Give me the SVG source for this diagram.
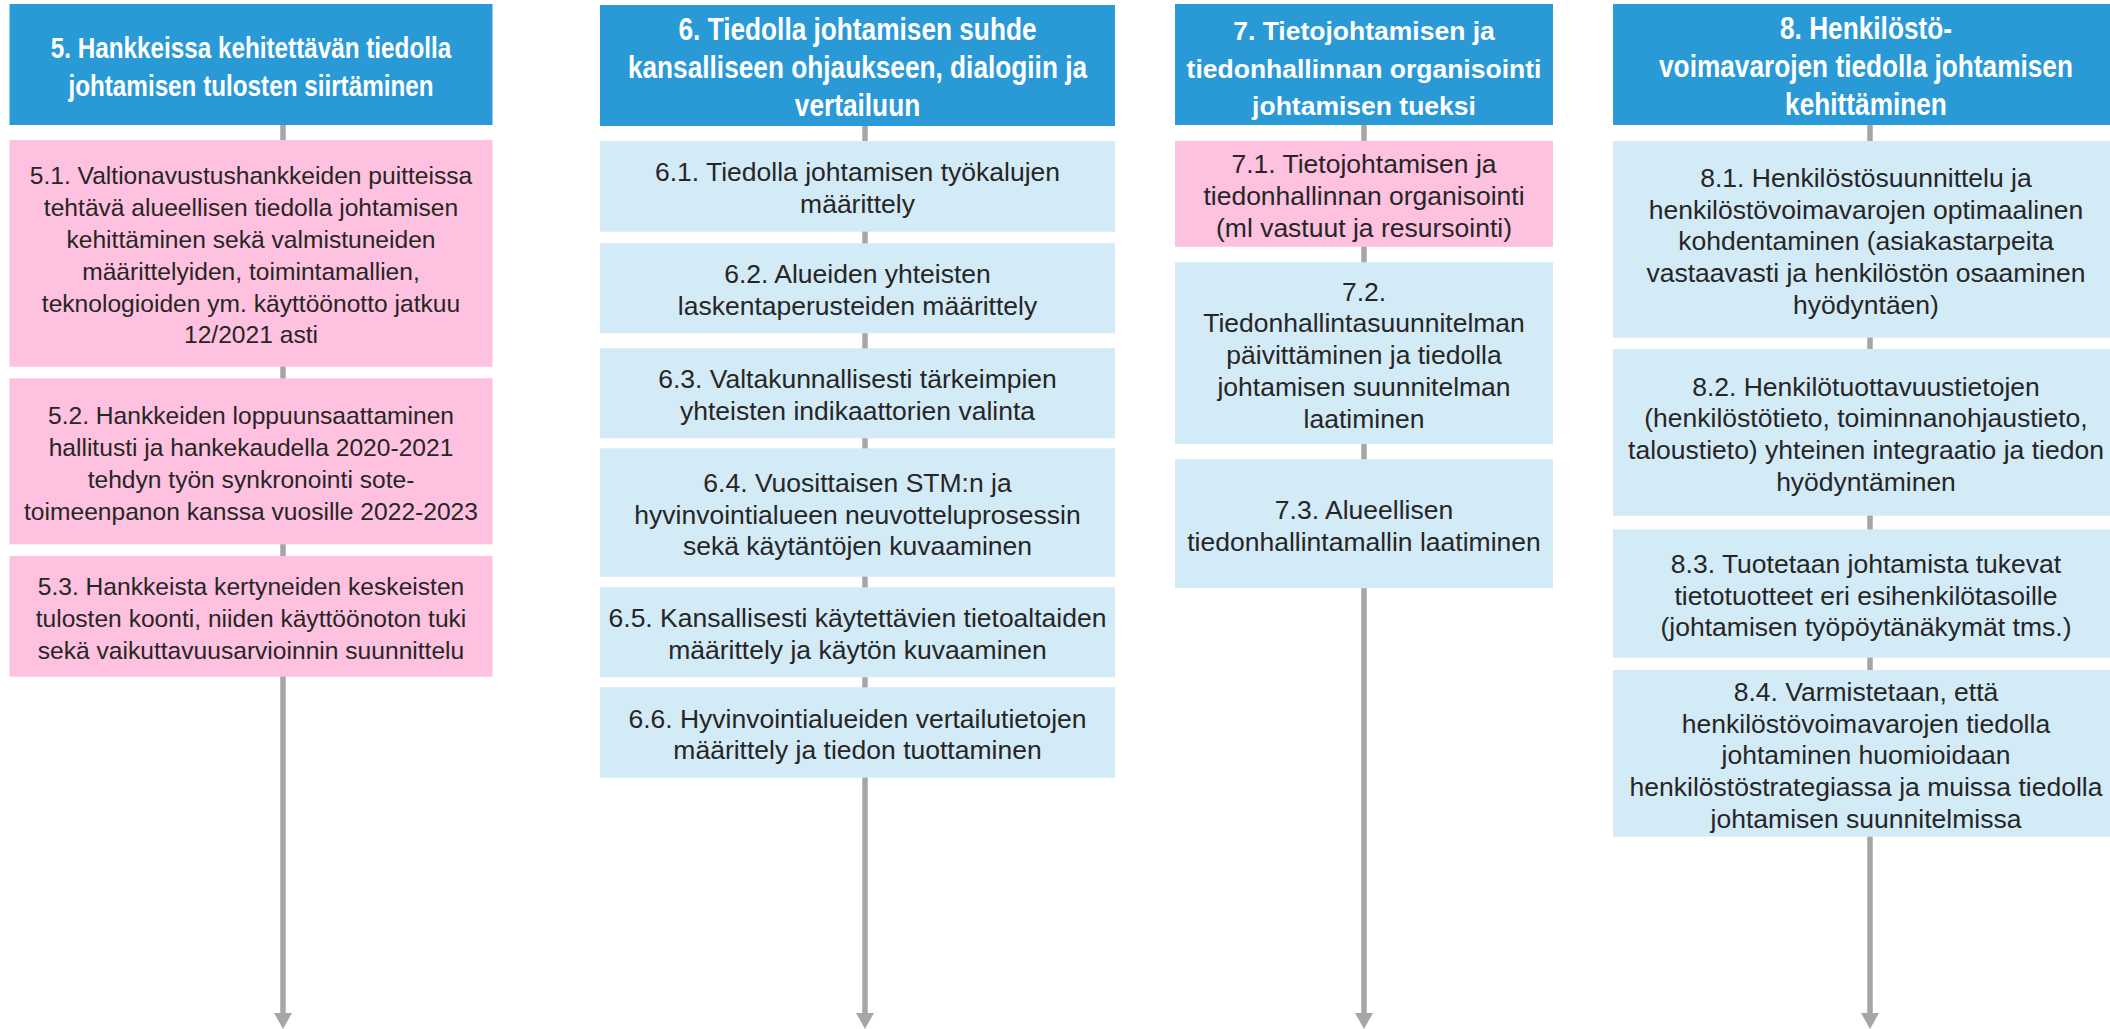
<svg xmlns="http://www.w3.org/2000/svg" width="2110" height="1029" viewBox="0 0 2110 1029">
<style>
.hd{fill:#2a9ad7}
.pk{fill:#fec1df}
.lb{fill:#d3eaf7}
.ht{font-family:'Liberation Sans',Arial,sans-serif;font-weight:700;font-size:32px;fill:#ffffff;text-anchor:middle}
.ht5{font-family:'Liberation Sans',Arial,sans-serif;font-weight:700;font-size:29.6px;fill:#ffffff;text-anchor:middle}
.ht7{font-family:'Liberation Sans',Arial,sans-serif;font-weight:700;font-size:26.5px;fill:#ffffff;text-anchor:middle}
.bt{font-family:'Liberation Sans',Arial,sans-serif;font-size:26.5px;fill:#262626;text-anchor:middle}
.bt5{font-family:'Liberation Sans',Arial,sans-serif;font-size:24.6px;fill:#262626;text-anchor:middle}
.cn{stroke:#a6a6a6;stroke-width:5.5;fill:none}
</style>
<defs>
<marker id="arr" markerUnits="userSpaceOnUse" markerWidth="16" markerHeight="18" viewBox="0 0 16 18" refX="0" refY="9" orient="auto">
<path d="M0,0 L16,9 L0,18 z" fill="#a6a6a6"/>
</marker>
</defs>
<rect width="2110" height="1029" fill="#ffffff"/>
<g id="connectors">
<line class="cn" x1="283" y1="124" x2="283" y2="141"/>
<line class="cn" x1="283" y1="366" x2="283" y2="379"/>
<line class="cn" x1="283" y1="544" x2="283" y2="557"/>
<line class="cn" x1="283" y1="676" x2="283" y2="1013" marker-end="url(#arr)"/>
<line class="cn" x1="865" y1="125" x2="865" y2="142"/>
<line class="cn" x1="865" y1="231" x2="865" y2="244"/>
<line class="cn" x1="865" y1="333" x2="865" y2="349"/>
<line class="cn" x1="865" y1="438" x2="865" y2="449"/>
<line class="cn" x1="865" y1="576" x2="865" y2="588"/>
<line class="cn" x1="865" y1="677" x2="865" y2="688"/>
<line class="cn" x1="865" y1="777" x2="865" y2="1013" marker-end="url(#arr)"/>
<line class="cn" x1="1364" y1="124" x2="1364" y2="141"/>
<line class="cn" x1="1364" y1="246" x2="1364" y2="263"/>
<line class="cn" x1="1364" y1="443" x2="1364" y2="460"/>
<line class="cn" x1="1364" y1="587" x2="1364" y2="1013" marker-end="url(#arr)"/>
<line class="cn" x1="1870" y1="124" x2="1870" y2="142"/>
<line class="cn" x1="1870" y1="337" x2="1870" y2="350"/>
<line class="cn" x1="1870" y1="515" x2="1870" y2="530"/>
<line class="cn" x1="1870" y1="657" x2="1870" y2="671"/>
<line class="cn" x1="1870" y1="836" x2="1870" y2="1013" marker-end="url(#arr)"/>
</g>
<g id="h5">
<rect class="hd" x="9.5" y="4" width="483" height="121"/>
<g transform="translate(251 0) scale(0.82 1)">
<text class="ht5" x="0" y="58">5. Hankkeissa kehitettävän tiedolla</text>
<text class="ht5" x="0" y="96">johtamisen tulosten siirtäminen</text>
</g>
</g>
<g id="n5-1">
<rect class="pk" x="9.5" y="140" width="483" height="226.7"/>
<text class="bt5" x="251" y="184.3">5.1. Valtionavustushankkeiden puitteissa</text>
<text class="bt5" x="251" y="216.1">tehtävä alueellisen tiedolla johtamisen</text>
<text class="bt5" x="251" y="247.9">kehittäminen sekä valmistuneiden</text>
<text class="bt5" x="251" y="279.7">määrittelyiden, toimintamallien,</text>
<text class="bt5" x="251" y="311.5">teknologioiden ym. käyttöönotto jatkuu</text>
<text class="bt5" x="251" y="343.3">12/2021 asti</text>
</g>
<g id="n5-2">
<rect class="pk" x="9.5" y="378.3" width="483" height="166"/>
<text class="bt5" x="251" y="424.1">5.2. Hankkeiden loppuunsaattaminen</text>
<text class="bt5" x="251" y="455.9">hallitusti ja hankekaudella 2020-2021</text>
<text class="bt5" x="251" y="487.7">tehdyn työn synkronointi sote-</text>
<text class="bt5" x="251" y="519.5">toimeenpanon kanssa vuosille 2022-2023</text>
</g>
<g id="n5-3">
<rect class="pk" x="9.5" y="556" width="483" height="120.7"/>
<text class="bt5" x="251" y="595">5.3. Hankkeista kertyneiden keskeisten</text>
<text class="bt5" x="251" y="626.8">tulosten koonti, niiden käyttöönoton tuki</text>
<text class="bt5" x="251" y="658.6">sekä vaikuttavuusarvioinnin suunnittelu</text>
</g>
<g id="h6">
<rect class="hd" x="600" y="5" width="515" height="121"/>
<g transform="translate(857.5 0) scale(0.82 1)">
<text class="ht" x="0" y="40.5">6. Tiedolla johtamisen suhde</text>
<text class="ht" x="0" y="78.5">kansalliseen ohjaukseen, dialogiin ja</text>
<text class="ht" x="0" y="116.5">vertailuun</text>
</g>
</g>
<g id="n6-1">
<rect class="lb" x="600" y="141" width="515" height="90.7"/>
<text class="bt" x="857.5" y="181.4">6.1. Tiedolla johtamisen työkalujen</text>
<text class="bt" x="857.5" y="213.2">määrittely</text>
</g>
<g id="n6-2">
<rect class="lb" x="600" y="243.3" width="515" height="90"/>
<text class="bt" x="857.5" y="283.4">6.2. Alueiden yhteisten</text>
<text class="bt" x="857.5" y="315.2">laskentaperusteiden määrittely</text>
</g>
<g id="n6-3">
<rect class="lb" x="600" y="348.3" width="515" height="90"/>
<text class="bt" x="857.5" y="388.4">6.3. Valtakunnallisesti tärkeimpien</text>
<text class="bt" x="857.5" y="420.2">yhteisten indikaattorien valinta</text>
</g>
<g id="n6-4">
<rect class="lb" x="600" y="448.3" width="515" height="128.4"/>
<text class="bt" x="857.5" y="491.7">6.4. Vuosittaisen STM:n ja</text>
<text class="bt" x="857.5" y="523.5">hyvinvointialueen neuvotteluprosessin</text>
<text class="bt" x="857.5" y="555.3">sekä käytäntöjen kuvaaminen</text>
</g>
<g id="n6-5">
<rect class="lb" x="600" y="587.3" width="515" height="90"/>
<text class="bt" x="857.5" y="627.4">6.5. Kansallisesti käytettävien tietoaltaiden</text>
<text class="bt" x="857.5" y="659.2">määrittely ja käytön kuvaaminen</text>
</g>
<g id="n6-6">
<rect class="lb" x="600" y="687.3" width="515" height="90.4"/>
<text class="bt" x="857.5" y="727.6">6.6. Hyvinvointialueiden vertailutietojen</text>
<text class="bt" x="857.5" y="759.4">määrittely ja tiedon tuottaminen</text>
</g>
<g id="h7">
<rect class="hd" x="1175" y="4" width="378" height="121"/>
<text class="ht7" x="1364" y="40">7. Tietojohtamisen ja</text>
<text class="ht7" x="1364" y="77.5">tiedonhallinnan organisointi</text>
<text class="ht7" x="1364" y="115">johtamisen tueksi</text>
</g>
<g id="n7-1">
<rect class="pk" x="1175" y="140.8" width="378" height="106"/>
<text class="bt" x="1364" y="173">7.1. Tietojohtamisen ja</text>
<text class="bt" x="1364" y="204.8">tiedonhallinnan organisointi</text>
<text class="bt" x="1364" y="236.6">(ml vastuut ja resursointi)</text>
</g>
<g id="n7-2">
<rect class="lb" x="1175" y="262.2" width="378" height="181.8"/>
<text class="bt" x="1364" y="300.5">7.2.</text>
<text class="bt" x="1364" y="332.3">Tiedonhallintasuunnitelman</text>
<text class="bt" x="1364" y="364.1">päivittäminen ja tiedolla</text>
<text class="bt" x="1364" y="395.9">johtamisen suunnitelman</text>
<text class="bt" x="1364" y="427.7">laatiminen</text>
</g>
<g id="n7-3">
<rect class="lb" x="1175" y="459.2" width="378" height="129"/>
<text class="bt" x="1364" y="518.8">7.3. Alueellisen</text>
<text class="bt" x="1364" y="550.6">tiedonhallintamallin laatiminen</text>
</g>
<g id="h8">
<rect class="hd" x="1613" y="4" width="510" height="121"/>
<g transform="translate(1866 0) scale(0.82 1)">
<text class="ht" x="0" y="39.5">8. Henkilöstö-</text>
<text class="ht" x="0" y="77.5">voimavarojen tiedolla johtamisen</text>
<text class="ht" x="0" y="115.5">kehittäminen</text>
</g>
</g>
<g id="n8-1">
<rect class="lb" x="1613" y="141" width="510" height="196.7"/>
<text class="bt" x="1866" y="186.7">8.1. Henkilöstösuunnittelu ja</text>
<text class="bt" x="1866" y="218.5">henkilöstövoimavarojen optimaalinen</text>
<text class="bt" x="1866" y="250.3">kohdentaminen (asiakastarpeita</text>
<text class="bt" x="1866" y="282.1">vastaavasti ja henkilöstön osaaminen</text>
<text class="bt" x="1866" y="313.9">hyödyntäen)</text>
</g>
<g id="n8-2">
<rect class="lb" x="1613" y="349" width="510" height="166.7"/>
<text class="bt" x="1866" y="395.6">8.2. Henkilötuottavuustietojen</text>
<text class="bt" x="1866" y="427.4">(henkilöstötieto, toiminnanohjaustieto,</text>
<text class="bt" x="1866" y="459.2">taloustieto) yhteinen integraatio ja tiedon</text>
<text class="bt" x="1866" y="491">hyödyntäminen</text>
</g>
<g id="n8-3">
<rect class="lb" x="1613" y="529.3" width="510" height="128.4"/>
<text class="bt" x="1866" y="572.7">8.3. Tuotetaan johtamista tukevat</text>
<text class="bt" x="1866" y="604.5">tietotuotteet eri esihenkilötasoille</text>
<text class="bt" x="1866" y="636.3">(johtamisen työpöytänäkymät tms.)</text>
</g>
<g id="n8-4">
<rect class="lb" x="1613" y="670" width="510" height="166.7"/>
<text class="bt" x="1866" y="700.7">8.4. Varmistetaan, että</text>
<text class="bt" x="1866" y="732.5">henkilöstövoimavarojen tiedolla</text>
<text class="bt" x="1866" y="764.3">johtaminen huomioidaan</text>
<text class="bt" x="1866" y="796.1">henkilöstöstrategiassa ja muissa tiedolla</text>
<text class="bt" x="1866" y="827.9">johtamisen suunnitelmissa</text>
</g>
</svg>
